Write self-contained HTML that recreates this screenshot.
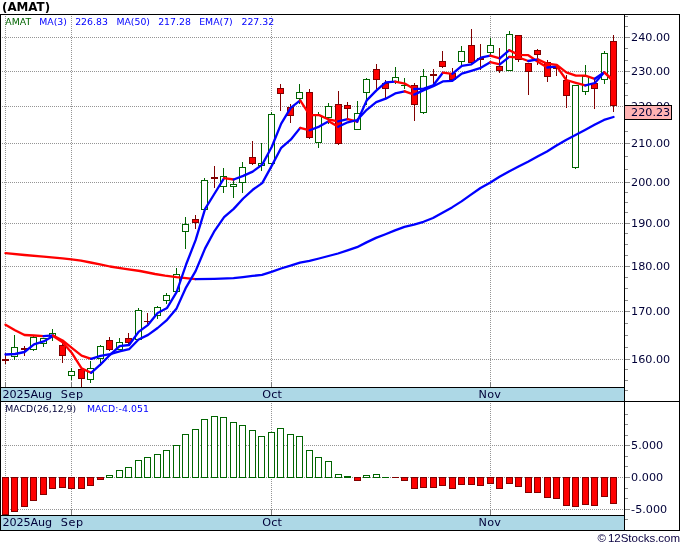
<!DOCTYPE html>
<html><head><meta charset="utf-8"><title>AMAT chart</title>
<style>html,body{margin:0;padding:0;background:#fff}svg{display:block}</style></head>
<body>
<svg width="680" height="546" viewBox="0 0 680 546">
<rect x="0" y="0" width="680" height="546" fill="#ffffff" />
<g shape-rendering="crispEdges">
<rect x="1" y="388" width="623" height="13" fill="#add8e6" />
<rect x="1" y="516" width="623" height="14" fill="#add8e6" />
<line x1="2" y1="37.5" x2="624" y2="37.5" stroke="#959595" stroke-width="1" stroke-dasharray="1,1"/>
<line x1="2" y1="71.5" x2="624" y2="71.5" stroke="#959595" stroke-width="1" stroke-dasharray="1,1"/>
<line x1="2" y1="106.5" x2="624" y2="106.5" stroke="#959595" stroke-width="1" stroke-dasharray="1,1"/>
<line x1="2" y1="143.5" x2="624" y2="143.5" stroke="#959595" stroke-width="1" stroke-dasharray="1,1"/>
<line x1="2" y1="182.5" x2="624" y2="182.5" stroke="#959595" stroke-width="1" stroke-dasharray="1,1"/>
<line x1="2" y1="223.5" x2="624" y2="223.5" stroke="#959595" stroke-width="1" stroke-dasharray="1,1"/>
<line x1="2" y1="266.5" x2="624" y2="266.5" stroke="#959595" stroke-width="1" stroke-dasharray="1,1"/>
<line x1="2" y1="311.5" x2="624" y2="311.5" stroke="#959595" stroke-width="1" stroke-dasharray="1,1"/>
<line x1="2" y1="359.5" x2="624" y2="359.5" stroke="#959595" stroke-width="1" stroke-dasharray="1,1"/>
<line x1="2" y1="445.5" x2="624" y2="445.5" stroke="#959595" stroke-width="1" stroke-dasharray="1,1"/>
<line x1="2" y1="477.5" x2="624" y2="477.5" stroke="#959595" stroke-width="1" stroke-dasharray="1,1"/>
<line x1="2" y1="509.5" x2="624" y2="509.5" stroke="#959595" stroke-width="1" stroke-dasharray="1,1"/>
<line x1="5.5" y1="16" x2="5.5" y2="387" stroke="#959595" stroke-width="1" stroke-dasharray="1,1"/>
<line x1="5.5" y1="403" x2="5.5" y2="515" stroke="#959595" stroke-width="1" stroke-dasharray="1,1"/>
<line x1="71.5" y1="16" x2="71.5" y2="387" stroke="#959595" stroke-width="1" stroke-dasharray="1,1"/>
<line x1="71.5" y1="403" x2="71.5" y2="515" stroke="#959595" stroke-width="1" stroke-dasharray="1,1"/>
<line x1="271.5" y1="16" x2="271.5" y2="387" stroke="#959595" stroke-width="1" stroke-dasharray="1,1"/>
<line x1="271.5" y1="403" x2="271.5" y2="515" stroke="#959595" stroke-width="1" stroke-dasharray="1,1"/>
<line x1="490.5" y1="16" x2="490.5" y2="387" stroke="#959595" stroke-width="1" stroke-dasharray="1,1"/>
<line x1="490.5" y1="403" x2="490.5" y2="515" stroke="#959595" stroke-width="1" stroke-dasharray="1,1"/>
<rect x="0" y="14" width="680" height="1" fill="#000000" />
<rect x="0" y="14" width="1" height="517" fill="#000000" />
<rect x="679" y="14" width="1" height="517" fill="#000000" />
<rect x="0" y="530" width="680" height="1" fill="#000000" />
<rect x="624" y="14" width="1" height="517" fill="#000000" />
<rect x="0" y="387" width="625" height="1" fill="#000000" />
<rect x="0" y="401" width="680" height="1" fill="#000000" />
<rect x="0" y="515" width="625" height="1" fill="#000000" />
<rect x="5" y="382" width="1" height="5" fill="#808080" />
<rect x="5" y="510" width="1" height="5" fill="#808080" />
<rect x="71" y="382" width="1" height="5" fill="#808080" />
<rect x="71" y="510" width="1" height="5" fill="#808080" />
<rect x="271" y="382" width="1" height="5" fill="#808080" />
<rect x="271" y="510" width="1" height="5" fill="#808080" />
<rect x="490" y="382" width="1" height="5" fill="#808080" />
<rect x="490" y="510" width="1" height="5" fill="#808080" />
<rect x="625" y="37" width="5" height="1" fill="#8c8c8c" />
<rect x="625" y="71" width="5" height="1" fill="#8c8c8c" />
<rect x="625" y="106" width="5" height="1" fill="#8c8c8c" />
<rect x="625" y="143" width="5" height="1" fill="#8c8c8c" />
<rect x="625" y="182" width="5" height="1" fill="#8c8c8c" />
<rect x="625" y="223" width="5" height="1" fill="#8c8c8c" />
<rect x="625" y="266" width="5" height="1" fill="#8c8c8c" />
<rect x="625" y="311" width="5" height="1" fill="#8c8c8c" />
<rect x="625" y="359" width="5" height="1" fill="#8c8c8c" />
<rect x="625" y="445" width="5" height="1" fill="#8c8c8c" />
<rect x="625" y="477" width="5" height="1" fill="#8c8c8c" />
<rect x="625" y="509" width="5" height="1" fill="#8c8c8c" />
<rect x="625" y="16" width="3" height="1" fill="#8c8c8c" />
<rect x="625" y="26" width="3" height="1" fill="#8c8c8c" />
<rect x="625" y="48" width="3" height="1" fill="#8c8c8c" />
<rect x="625" y="60" width="3" height="1" fill="#8c8c8c" />
<rect x="625" y="83" width="3" height="1" fill="#8c8c8c" />
<rect x="625" y="95" width="3" height="1" fill="#8c8c8c" />
<rect x="625" y="131" width="3" height="1" fill="#8c8c8c" />
<rect x="625" y="156" width="3" height="1" fill="#8c8c8c" />
<rect x="625" y="169" width="3" height="1" fill="#8c8c8c" />
<rect x="625" y="192" width="3" height="1" fill="#8c8c8c" />
<rect x="625" y="202" width="3" height="1" fill="#8c8c8c" />
<rect x="625" y="212" width="3" height="1" fill="#8c8c8c" />
<rect x="625" y="233" width="3" height="1" fill="#8c8c8c" />
<rect x="625" y="244" width="3" height="1" fill="#8c8c8c" />
<rect x="625" y="255" width="3" height="1" fill="#8c8c8c" />
<rect x="625" y="277" width="3" height="1" fill="#8c8c8c" />
<rect x="625" y="288" width="3" height="1" fill="#8c8c8c" />
<rect x="625" y="300" width="3" height="1" fill="#8c8c8c" />
<rect x="625" y="323" width="3" height="1" fill="#8c8c8c" />
<rect x="625" y="335" width="3" height="1" fill="#8c8c8c" />
<rect x="625" y="347" width="3" height="1" fill="#8c8c8c" />
<rect x="625" y="369" width="3" height="1" fill="#8c8c8c" />
<rect x="625" y="380" width="3" height="1" fill="#8c8c8c" />
<rect x="625" y="390" width="3" height="1" fill="#8c8c8c" />
<rect x="625" y="414" width="3" height="1" fill="#8c8c8c" />
<rect x="625" y="424" width="3" height="1" fill="#8c8c8c" />
<rect x="625" y="435" width="3" height="1" fill="#8c8c8c" />
<rect x="625" y="456" width="3" height="1" fill="#8c8c8c" />
<rect x="625" y="466" width="3" height="1" fill="#8c8c8c" />
<rect x="625" y="488" width="3" height="1" fill="#8c8c8c" />
<rect x="625" y="498" width="3" height="1" fill="#8c8c8c" />
<rect x="625" y="519" width="3" height="1" fill="#8c8c8c" />
</g>
<g shape-rendering="crispEdges">
<rect x="5" y="353" width="1" height="11" fill="#800000" />
<rect x="2" y="359" width="7" height="2" fill="#800000" />
<rect x="14" y="335" width="1" height="12" fill="#006400" />
<rect x="14" y="357" width="1" height="3" fill="#006400" />
<rect x="11.5" y="347.5" width="6" height="9" fill="#ffffff" stroke="#006400" stroke-width="1"/>
<rect x="24" y="346" width="1" height="10" fill="#800000" />
<rect x="21" y="348" width="7" height="2" fill="#800000" />
<rect x="33" y="336" width="1" height="1" fill="#006400" />
<rect x="33" y="350" width="1" height="1" fill="#006400" />
<rect x="30.5" y="337.5" width="6" height="12" fill="#ffffff" stroke="#006400" stroke-width="1"/>
<rect x="43" y="338" width="1" height="0" fill="#006400" />
<rect x="43" y="344" width="1" height="3" fill="#006400" />
<rect x="40.5" y="338.5" width="6" height="5" fill="#ffffff" stroke="#006400" stroke-width="1"/>
<rect x="52" y="329" width="1" height="4" fill="#006400" />
<rect x="52" y="337" width="1" height="4" fill="#006400" />
<rect x="49.5" y="333.5" width="6" height="3" fill="#ffffff" stroke="#006400" stroke-width="1"/>
<rect x="62" y="343" width="1" height="20" fill="#800000" />
<rect x="59.5" y="345.5" width="6" height="10" fill="#ff0000" stroke="#800000" stroke-width="1"/>
<rect x="71" y="368" width="1" height="3" fill="#006400" />
<rect x="71" y="376" width="1" height="4" fill="#006400" />
<rect x="68.5" y="371.5" width="6" height="4" fill="#ffffff" stroke="#006400" stroke-width="1"/>
<rect x="81" y="369" width="1" height="18" fill="#800000" />
<rect x="78.5" y="369.5" width="6" height="9" fill="#ff0000" stroke="#800000" stroke-width="1"/>
<rect x="90" y="361" width="1" height="7" fill="#006400" />
<rect x="90" y="380" width="1" height="3" fill="#006400" />
<rect x="87.5" y="368.5" width="6" height="11" fill="#ffffff" stroke="#006400" stroke-width="1"/>
<rect x="100" y="345" width="1" height="1" fill="#006400" />
<rect x="100" y="359" width="1" height="7" fill="#006400" />
<rect x="97.5" y="346.5" width="6" height="12" fill="#ffffff" stroke="#006400" stroke-width="1"/>
<rect x="109" y="337" width="1" height="14" fill="#800000" />
<rect x="106.5" y="340.5" width="6" height="9" fill="#ff0000" stroke="#800000" stroke-width="1"/>
<rect x="119" y="338" width="1" height="4" fill="#006400" />
<rect x="119" y="350" width="1" height="0" fill="#006400" />
<rect x="116.5" y="342.5" width="6" height="7" fill="#ffffff" stroke="#006400" stroke-width="1"/>
<rect x="128" y="333" width="1" height="13" fill="#800000" />
<rect x="125.5" y="338.5" width="6" height="4" fill="#ff0000" stroke="#800000" stroke-width="1"/>
<rect x="138" y="308" width="1" height="2" fill="#006400" />
<rect x="138" y="340" width="1" height="0" fill="#006400" />
<rect x="135.5" y="310.5" width="6" height="29" fill="#ffffff" stroke="#006400" stroke-width="1"/>
<rect x="147" y="313" width="1" height="11" fill="#800000" />
<rect x="144" y="321" width="7" height="1" fill="#800000" />
<rect x="157" y="306" width="1" height="1" fill="#006400" />
<rect x="157" y="316" width="1" height="3" fill="#006400" />
<rect x="154.5" y="307.5" width="6" height="8" fill="#ffffff" stroke="#006400" stroke-width="1"/>
<rect x="166" y="293" width="1" height="2" fill="#006400" />
<rect x="166" y="301" width="1" height="3" fill="#006400" />
<rect x="163.5" y="295.5" width="6" height="5" fill="#ffffff" stroke="#006400" stroke-width="1"/>
<rect x="176" y="268" width="1" height="6" fill="#006400" />
<rect x="176" y="292" width="1" height="0" fill="#006400" />
<rect x="173.5" y="274.5" width="6" height="17" fill="#ffffff" stroke="#006400" stroke-width="1"/>
<rect x="185" y="217" width="1" height="7" fill="#006400" />
<rect x="185" y="232" width="1" height="17" fill="#006400" />
<rect x="182.5" y="224.5" width="6" height="7" fill="#ffffff" stroke="#006400" stroke-width="1"/>
<rect x="195" y="215" width="1" height="14" fill="#800000" />
<rect x="192.5" y="219.5" width="6" height="3" fill="#ff0000" stroke="#800000" stroke-width="1"/>
<rect x="204" y="178" width="1" height="2" fill="#006400" />
<rect x="204" y="210" width="1" height="0" fill="#006400" />
<rect x="201.5" y="180.5" width="6" height="29" fill="#ffffff" stroke="#006400" stroke-width="1"/>
<rect x="214" y="166" width="1" height="22" fill="#800000" />
<rect x="211" y="177" width="7" height="2" fill="#800000" />
<rect x="223" y="168" width="1" height="8" fill="#006400" />
<rect x="223" y="187" width="1" height="6" fill="#006400" />
<rect x="220.5" y="176.5" width="6" height="10" fill="#ffffff" stroke="#006400" stroke-width="1"/>
<rect x="233" y="180" width="1" height="4" fill="#006400" />
<rect x="233" y="187" width="1" height="11" fill="#006400" />
<rect x="230.5" y="184.5" width="6" height="2" fill="#ffffff" stroke="#006400" stroke-width="1"/>
<rect x="242" y="162" width="1" height="5" fill="#006400" />
<rect x="242" y="183" width="1" height="10" fill="#006400" />
<rect x="239.5" y="167.5" width="6" height="15" fill="#ffffff" stroke="#006400" stroke-width="1"/>
<rect x="252" y="141" width="1" height="24" fill="#800000" />
<rect x="249.5" y="157.5" width="6" height="6" fill="#ff0000" stroke="#800000" stroke-width="1"/>
<rect x="261" y="143" width="1" height="20" fill="#006400" />
<rect x="261" y="166" width="1" height="5" fill="#006400" />
<rect x="258.5" y="163.5" width="6" height="2" fill="#ffffff" stroke="#006400" stroke-width="1"/>
<rect x="271" y="112" width="1" height="2" fill="#006400" />
<rect x="271" y="164" width="1" height="4" fill="#006400" />
<rect x="268.5" y="114.5" width="6" height="49" fill="#ffffff" stroke="#006400" stroke-width="1"/>
<rect x="280" y="84" width="1" height="27" fill="#800000" />
<rect x="277.5" y="88.5" width="6" height="5" fill="#ff0000" stroke="#800000" stroke-width="1"/>
<rect x="290" y="104" width="1" height="19" fill="#800000" />
<rect x="287.5" y="107.5" width="6" height="8" fill="#ff0000" stroke="#800000" stroke-width="1"/>
<rect x="299" y="84" width="1" height="8" fill="#006400" />
<rect x="299" y="99" width="1" height="5" fill="#006400" />
<rect x="296.5" y="92.5" width="6" height="6" fill="#ffffff" stroke="#006400" stroke-width="1"/>
<rect x="309" y="89" width="1" height="50" fill="#800000" />
<rect x="306.5" y="92.5" width="6" height="45" fill="#ff0000" stroke="#800000" stroke-width="1"/>
<rect x="318" y="112" width="1" height="3" fill="#006400" />
<rect x="318" y="143" width="1" height="5" fill="#006400" />
<rect x="315.5" y="115.5" width="6" height="27" fill="#ffffff" stroke="#006400" stroke-width="1"/>
<rect x="328" y="103" width="1" height="3" fill="#006400" />
<rect x="328" y="118" width="1" height="6" fill="#006400" />
<rect x="325.5" y="106.5" width="6" height="11" fill="#ffffff" stroke="#006400" stroke-width="1"/>
<rect x="338" y="91" width="1" height="54" fill="#800000" />
<rect x="335.5" y="104.5" width="6" height="39" fill="#ff0000" stroke="#800000" stroke-width="1"/>
<rect x="347" y="102" width="1" height="16" fill="#800000" />
<rect x="344.5" y="105.5" width="6" height="3" fill="#ff0000" stroke="#800000" stroke-width="1"/>
<rect x="357" y="101" width="1" height="12" fill="#006400" />
<rect x="357" y="130" width="1" height="0" fill="#006400" />
<rect x="354.5" y="113.5" width="6" height="16" fill="#ffffff" stroke="#006400" stroke-width="1"/>
<rect x="366" y="78" width="1" height="1" fill="#006400" />
<rect x="366" y="93" width="1" height="12" fill="#006400" />
<rect x="363.5" y="79.5" width="6" height="13" fill="#ffffff" stroke="#006400" stroke-width="1"/>
<rect x="376" y="64" width="1" height="25" fill="#800000" />
<rect x="373.5" y="69.5" width="6" height="10" fill="#ff0000" stroke="#800000" stroke-width="1"/>
<rect x="385" y="80" width="1" height="18" fill="#800000" />
<rect x="382.5" y="83.5" width="6" height="5" fill="#ff0000" stroke="#800000" stroke-width="1"/>
<rect x="395" y="67" width="1" height="10" fill="#006400" />
<rect x="395" y="82" width="1" height="2" fill="#006400" />
<rect x="392.5" y="77.5" width="6" height="4" fill="#ffffff" stroke="#006400" stroke-width="1"/>
<rect x="404" y="78" width="1" height="11" fill="#006400" />
<rect x="401" y="85" width="7" height="1" fill="#006400" />
<rect x="414" y="83" width="1" height="38" fill="#800000" />
<rect x="411.5" y="85.5" width="6" height="19" fill="#ff0000" stroke="#800000" stroke-width="1"/>
<rect x="423" y="69" width="1" height="7" fill="#006400" />
<rect x="423" y="113" width="1" height="1" fill="#006400" />
<rect x="420.5" y="76.5" width="6" height="36" fill="#ffffff" stroke="#006400" stroke-width="1"/>
<rect x="433" y="69" width="1" height="16" fill="#800000" />
<rect x="430" y="74" width="7" height="2" fill="#800000" />
<rect x="442" y="51" width="1" height="17" fill="#800000" />
<rect x="439.5" y="61.5" width="6" height="5" fill="#ff0000" stroke="#800000" stroke-width="1"/>
<rect x="452" y="68" width="1" height="12" fill="#800000" />
<rect x="449.5" y="73.5" width="6" height="6" fill="#ff0000" stroke="#800000" stroke-width="1"/>
<rect x="461" y="46" width="1" height="5" fill="#006400" />
<rect x="461" y="62" width="1" height="4" fill="#006400" />
<rect x="458.5" y="51.5" width="6" height="10" fill="#ffffff" stroke="#006400" stroke-width="1"/>
<rect x="471" y="29" width="1" height="35" fill="#800000" />
<rect x="468.5" y="45.5" width="6" height="17" fill="#ff0000" stroke="#800000" stroke-width="1"/>
<rect x="480" y="44" width="1" height="26" fill="#800000" />
<rect x="477" y="58" width="7" height="2" fill="#800000" />
<rect x="490" y="38" width="1" height="7" fill="#006400" />
<rect x="490" y="53" width="1" height="4" fill="#006400" />
<rect x="487.5" y="45.5" width="6" height="7" fill="#ffffff" stroke="#006400" stroke-width="1"/>
<rect x="499" y="48" width="1" height="25" fill="#800000" />
<rect x="496.5" y="66.5" width="6" height="4" fill="#ff0000" stroke="#800000" stroke-width="1"/>
<rect x="509" y="31" width="1" height="3" fill="#006400" />
<rect x="509" y="71" width="1" height="0" fill="#006400" />
<rect x="506.5" y="34.5" width="6" height="36" fill="#ffffff" stroke="#006400" stroke-width="1"/>
<rect x="518" y="35" width="1" height="27" fill="#800000" />
<rect x="515.5" y="35.5" width="6" height="24" fill="#ff0000" stroke="#800000" stroke-width="1"/>
<rect x="528" y="63" width="1" height="32" fill="#800000" />
<rect x="525.5" y="63.5" width="6" height="8" fill="#ff0000" stroke="#800000" stroke-width="1"/>
<rect x="537" y="49" width="1" height="16" fill="#800000" />
<rect x="534.5" y="50.5" width="6" height="4" fill="#ff0000" stroke="#800000" stroke-width="1"/>
<rect x="547" y="60" width="1" height="22" fill="#800000" />
<rect x="544.5" y="62.5" width="6" height="14" fill="#ff0000" stroke="#800000" stroke-width="1"/>
<rect x="556" y="65" width="1" height="11" fill="#800000" />
<rect x="553" y="67" width="7" height="2" fill="#800000" />
<rect x="566" y="75" width="1" height="33" fill="#800000" />
<rect x="563.5" y="80.5" width="6" height="15" fill="#ff0000" stroke="#800000" stroke-width="1"/>
<rect x="575" y="85" width="1" height="0" fill="#006400" />
<rect x="575" y="168" width="1" height="1" fill="#006400" />
<rect x="572.5" y="85.5" width="6" height="82" fill="#ffffff" stroke="#006400" stroke-width="1"/>
<rect x="585" y="65" width="1" height="11" fill="#006400" />
<rect x="585" y="92" width="1" height="3" fill="#006400" />
<rect x="582.5" y="76.5" width="6" height="15" fill="#ffffff" stroke="#006400" stroke-width="1"/>
<rect x="594" y="78" width="1" height="31" fill="#800000" />
<rect x="591.5" y="83.5" width="6" height="5" fill="#ff0000" stroke="#800000" stroke-width="1"/>
<rect x="604" y="51" width="1" height="2" fill="#006400" />
<rect x="604" y="80" width="1" height="4" fill="#006400" />
<rect x="601.5" y="53.5" width="6" height="26" fill="#ffffff" stroke="#006400" stroke-width="1"/>
<rect x="613" y="35" width="1" height="77" fill="#800000" />
<rect x="610.5" y="41.5" width="6" height="64" fill="#ff0000" stroke="#800000" stroke-width="1"/>
<rect x="2.5" y="477.5" width="6" height="37" fill="#ff0000" stroke="#800000" stroke-width="1"/>
<rect x="11.5" y="477.5" width="6" height="34" fill="#ff0000" stroke="#800000" stroke-width="1"/>
<rect x="21.5" y="477.5" width="6" height="29" fill="#ff0000" stroke="#800000" stroke-width="1"/>
<rect x="30.5" y="477.5" width="6" height="23" fill="#ff0000" stroke="#800000" stroke-width="1"/>
<rect x="40.5" y="477.5" width="6" height="17" fill="#ff0000" stroke="#800000" stroke-width="1"/>
<rect x="49.5" y="477.5" width="6" height="11" fill="#ff0000" stroke="#800000" stroke-width="1"/>
<rect x="59.5" y="477.5" width="6" height="10" fill="#ff0000" stroke="#800000" stroke-width="1"/>
<rect x="68.5" y="477.5" width="6" height="11" fill="#ff0000" stroke="#800000" stroke-width="1"/>
<rect x="78.5" y="477.5" width="6" height="11" fill="#ff0000" stroke="#800000" stroke-width="1"/>
<rect x="87.5" y="477.5" width="6" height="8" fill="#ff0000" stroke="#800000" stroke-width="1"/>
<rect x="97.5" y="477.5" width="6" height="2" fill="#ff0000" stroke="#800000" stroke-width="1"/>
<rect x="106.5" y="475.5" width="6" height="2" fill="#ffffff" stroke="#006400" stroke-width="1"/>
<rect x="116.5" y="470.5" width="6" height="7" fill="#ffffff" stroke="#006400" stroke-width="1"/>
<rect x="125.5" y="467.5" width="6" height="10" fill="#ffffff" stroke="#006400" stroke-width="1"/>
<rect x="135.5" y="460.5" width="6" height="17" fill="#ffffff" stroke="#006400" stroke-width="1"/>
<rect x="144.5" y="457.5" width="6" height="20" fill="#ffffff" stroke="#006400" stroke-width="1"/>
<rect x="154.5" y="454.5" width="6" height="23" fill="#ffffff" stroke="#006400" stroke-width="1"/>
<rect x="163.5" y="450.5" width="6" height="27" fill="#ffffff" stroke="#006400" stroke-width="1"/>
<rect x="173.5" y="445.5" width="6" height="32" fill="#ffffff" stroke="#006400" stroke-width="1"/>
<rect x="182.5" y="434.5" width="6" height="43" fill="#ffffff" stroke="#006400" stroke-width="1"/>
<rect x="192.5" y="429.5" width="6" height="48" fill="#ffffff" stroke="#006400" stroke-width="1"/>
<rect x="201.5" y="419.5" width="6" height="58" fill="#ffffff" stroke="#006400" stroke-width="1"/>
<rect x="211.5" y="416.5" width="6" height="61" fill="#ffffff" stroke="#006400" stroke-width="1"/>
<rect x="220.5" y="417.5" width="6" height="60" fill="#ffffff" stroke="#006400" stroke-width="1"/>
<rect x="230.5" y="422.5" width="6" height="55" fill="#ffffff" stroke="#006400" stroke-width="1"/>
<rect x="239.5" y="425.5" width="6" height="52" fill="#ffffff" stroke="#006400" stroke-width="1"/>
<rect x="249.5" y="430.5" width="6" height="47" fill="#ffffff" stroke="#006400" stroke-width="1"/>
<rect x="258.5" y="436.5" width="6" height="41" fill="#ffffff" stroke="#006400" stroke-width="1"/>
<rect x="268.5" y="432.5" width="6" height="45" fill="#ffffff" stroke="#006400" stroke-width="1"/>
<rect x="277.5" y="428.5" width="6" height="49" fill="#ffffff" stroke="#006400" stroke-width="1"/>
<rect x="287.5" y="434.5" width="6" height="43" fill="#ffffff" stroke="#006400" stroke-width="1"/>
<rect x="296.5" y="436.5" width="6" height="41" fill="#ffffff" stroke="#006400" stroke-width="1"/>
<rect x="306.5" y="450.5" width="6" height="27" fill="#ffffff" stroke="#006400" stroke-width="1"/>
<rect x="315.5" y="457.5" width="6" height="20" fill="#ffffff" stroke="#006400" stroke-width="1"/>
<rect x="325.5" y="461.5" width="6" height="16" fill="#ffffff" stroke="#006400" stroke-width="1"/>
<rect x="335.5" y="474.5" width="6" height="3" fill="#ffffff" stroke="#006400" stroke-width="1"/>
<rect x="344" y="476" width="7" height="2" fill="#006400" />
<rect x="354.5" y="477.5" width="6" height="3" fill="#ff0000" stroke="#800000" stroke-width="1"/>
<rect x="363.5" y="475.5" width="6" height="2" fill="#ffffff" stroke="#006400" stroke-width="1"/>
<rect x="373.5" y="474.5" width="6" height="3" fill="#ffffff" stroke="#006400" stroke-width="1"/>
<rect x="382" y="477" width="7" height="1" fill="#006400" />
<rect x="392" y="477" width="7" height="1" fill="#800000" />
<rect x="401.5" y="477.5" width="6" height="3" fill="#ff0000" stroke="#800000" stroke-width="1"/>
<rect x="411.5" y="477.5" width="6" height="11" fill="#ff0000" stroke="#800000" stroke-width="1"/>
<rect x="420.5" y="477.5" width="6" height="10" fill="#ff0000" stroke="#800000" stroke-width="1"/>
<rect x="430.5" y="477.5" width="6" height="10" fill="#ff0000" stroke="#800000" stroke-width="1"/>
<rect x="439.5" y="477.5" width="6" height="8" fill="#ff0000" stroke="#800000" stroke-width="1"/>
<rect x="449.5" y="477.5" width="6" height="11" fill="#ff0000" stroke="#800000" stroke-width="1"/>
<rect x="458.5" y="477.5" width="6" height="7" fill="#ff0000" stroke="#800000" stroke-width="1"/>
<rect x="468.5" y="477.5" width="6" height="7" fill="#ff0000" stroke="#800000" stroke-width="1"/>
<rect x="477.5" y="477.5" width="6" height="8" fill="#ff0000" stroke="#800000" stroke-width="1"/>
<rect x="487.5" y="477.5" width="6" height="6" fill="#ff0000" stroke="#800000" stroke-width="1"/>
<rect x="496.5" y="477.5" width="6" height="11" fill="#ff0000" stroke="#800000" stroke-width="1"/>
<rect x="506.5" y="477.5" width="6" height="6" fill="#ff0000" stroke="#800000" stroke-width="1"/>
<rect x="515.5" y="477.5" width="6" height="9" fill="#ff0000" stroke="#800000" stroke-width="1"/>
<rect x="525.5" y="477.5" width="6" height="15" fill="#ff0000" stroke="#800000" stroke-width="1"/>
<rect x="534.5" y="477.5" width="6" height="15" fill="#ff0000" stroke="#800000" stroke-width="1"/>
<rect x="544.5" y="477.5" width="6" height="20" fill="#ff0000" stroke="#800000" stroke-width="1"/>
<rect x="553.5" y="477.5" width="6" height="21" fill="#ff0000" stroke="#800000" stroke-width="1"/>
<rect x="563.5" y="477.5" width="6" height="28" fill="#ff0000" stroke="#800000" stroke-width="1"/>
<rect x="572.5" y="477.5" width="6" height="29" fill="#ff0000" stroke="#800000" stroke-width="1"/>
<rect x="582.5" y="477.5" width="6" height="27" fill="#ff0000" stroke="#800000" stroke-width="1"/>
<rect x="591.5" y="477.5" width="6" height="28" fill="#ff0000" stroke="#800000" stroke-width="1"/>
<rect x="601.5" y="477.5" width="6" height="19" fill="#ff0000" stroke="#800000" stroke-width="1"/>
<rect x="610.5" y="477.5" width="6" height="26" fill="#ff0000" stroke="#800000" stroke-width="1"/>
</g>
<polyline fill="none" stroke="#ff0000" stroke-width="2.3" stroke-linejoin="round" stroke-linecap="round" points="5.5,253.2 24.5,255.0 43.5,256.6 62.5,258.4 71.5,259.3 81.0,260.6 90.5,262.5 100.0,264.3 110.0,266.5 125.0,268.8 140.0,271.0 155.0,274.0 165.0,275.7 176.5,277.2 186.0,278.2 195.5,279.1"/>
<polyline fill="none" stroke="#0000ff" stroke-width="2.3" stroke-linejoin="round" stroke-linecap="round" points="195.5,279.1 214.5,278.8 233.5,278.1 243.0,277.1 252.5,275.9 262.0,274.9 271.5,271.9 281.0,268.5 290.5,265.7 300.0,262.6 309.5,260.9 319.0,258.5 328.5,256.0 338.0,253.5 347.5,250.4 357.0,247.2 366.5,242.4 376.0,237.9 385.5,234.2 395.0,230.4 404.5,226.9 414.0,224.6 423.5,221.8 433.0,218.0 442.5,212.7 452.0,207.4 461.5,201.4 471.0,194.6 480.5,188.0 490.0,182.7 499.5,176.8 509.0,171.4 518.5,166.5 528.0,161.8 537.5,156.6 547.0,151.5 556.5,145.6 566.0,140.0 575.5,135.1 585.0,130.0 594.5,124.8 604.0,119.9 613.5,117.0"/>
<polyline fill="none" stroke="#0000ff" stroke-width="2.3" stroke-linejoin="round" stroke-linecap="round" points="5.5,354.5 15.0,354.0 24.5,352.0 34.0,344.3 43.6,341.4 53.1,336.1"/>
<polyline fill="none" stroke="#ff0000" stroke-width="2.3" stroke-linejoin="round" stroke-linecap="round" points="53.1,336.1 62.6,342.2 72.1,353.3 81.6,368.4 91.1,372.8"/>
<polyline fill="none" stroke="#0000ff" stroke-width="2.3" stroke-linejoin="round" stroke-linecap="round" points="91.1,372.8 100.6,364.4 110.1,354.8 119.6,346.2 129.1,345.0 138.6,331.9 148.1,324.8 157.6,313.0 167.1,307.9 176.6,292.2 186.1,264.5 195.6,240.2 205.1,208.9 214.6,193.5 224.1,178.2"/>
<polyline fill="none" stroke="#ff0000" stroke-width="2.3" stroke-linejoin="round" stroke-linecap="round" points="224.1,178.2 233.7,179.5"/>
<polyline fill="none" stroke="#0000ff" stroke-width="2.3" stroke-linejoin="round" stroke-linecap="round" points="233.7,179.5 243.2,175.9 252.7,171.6 262.2,164.6 271.7,147.0 281.2,123.6 290.7,107.8 300.2,100.4"/>
<polyline fill="none" stroke="#ff0000" stroke-width="2.3" stroke-linejoin="round" stroke-linecap="round" points="300.2,100.4 309.7,115.1 319.2,115.1 328.7,119.5 338.2,121.4"/>
<polyline fill="none" stroke="#0000ff" stroke-width="2.3" stroke-linejoin="round" stroke-linecap="round" points="338.2,121.4 347.7,119.2"/>
<polyline fill="none" stroke="#ff0000" stroke-width="2.3" stroke-linejoin="round" stroke-linecap="round" points="347.7,119.2 357.2,121.7"/>
<polyline fill="none" stroke="#0000ff" stroke-width="2.3" stroke-linejoin="round" stroke-linecap="round" points="357.2,121.7 366.7,100.4 376.2,90.6 385.7,82.3 395.2,81.6"/>
<polyline fill="none" stroke="#ff0000" stroke-width="2.3" stroke-linejoin="round" stroke-linecap="round" points="395.2,81.6 404.7,83.6 414.2,89.0"/>
<polyline fill="none" stroke="#0000ff" stroke-width="2.3" stroke-linejoin="round" stroke-linecap="round" points="414.2,89.0 423.8,88.7 433.3,85.3 442.8,72.7"/>
<polyline fill="none" stroke="#ff0000" stroke-width="2.3" stroke-linejoin="round" stroke-linecap="round" points="442.8,72.7 452.3,73.8"/>
<polyline fill="none" stroke="#0000ff" stroke-width="2.3" stroke-linejoin="round" stroke-linecap="round" points="452.3,73.8 461.8,65.9 471.3,64.4 480.8,57.6 490.3,55.6"/>
<polyline fill="none" stroke="#ff0000" stroke-width="2.3" stroke-linejoin="round" stroke-linecap="round" points="490.3,55.6 499.8,58.4"/>
<polyline fill="none" stroke="#0000ff" stroke-width="2.3" stroke-linejoin="round" stroke-linecap="round" points="499.8,58.4 509.3,50.2"/>
<polyline fill="none" stroke="#ff0000" stroke-width="2.3" stroke-linejoin="round" stroke-linecap="round" points="509.3,50.2 518.8,54.9 528.3,55.2 537.8,61.8 547.3,67.5"/>
<polyline fill="none" stroke="#0000ff" stroke-width="2.3" stroke-linejoin="round" stroke-linecap="round" points="547.3,67.5 556.8,66.3"/>
<polyline fill="none" stroke="#ff0000" stroke-width="2.3" stroke-linejoin="round" stroke-linecap="round" points="556.8,66.3 566.3,80.0 575.8,82.8 585.3,85.4"/>
<polyline fill="none" stroke="#0000ff" stroke-width="2.3" stroke-linejoin="round" stroke-linecap="round" points="585.3,85.4 594.8,83.0 604.3,72.3"/>
<polyline fill="none" stroke="#ff0000" stroke-width="2.3" stroke-linejoin="round" stroke-linecap="round" points="604.3,72.3 613.9,82.2"/>
<polyline fill="none" stroke="#ff0000" stroke-width="2.3" stroke-linejoin="round" stroke-linecap="round" points="5.5,324.7 15.0,330.3 24.5,335.0 34.0,335.5 43.6,336.1"/>
<polyline fill="none" stroke="#0000ff" stroke-width="2.3" stroke-linejoin="round" stroke-linecap="round" points="43.6,336.1 53.1,335.4"/>
<polyline fill="none" stroke="#ff0000" stroke-width="2.3" stroke-linejoin="round" stroke-linecap="round" points="53.1,335.4 62.6,340.4 72.1,348.1 81.6,355.7 91.1,358.9"/>
<polyline fill="none" stroke="#0000ff" stroke-width="2.3" stroke-linejoin="round" stroke-linecap="round" points="91.1,358.9 100.6,355.8 110.1,354.2 119.6,351.3 129.1,349.2 138.6,339.5 148.1,334.9 157.6,328.0 167.1,319.8 176.6,308.4 186.1,287.3 195.6,271.1 205.1,248.4 214.6,230.8 224.1,217.2 233.7,208.9 243.2,198.5 252.7,189.8 262.2,183.1 271.7,165.9 281.2,147.8 290.7,139.7 300.2,127.9"/>
<polyline fill="none" stroke="#ff0000" stroke-width="2.3" stroke-linejoin="round" stroke-linecap="round" points="300.2,127.9 309.7,130.3"/>
<polyline fill="none" stroke="#0000ff" stroke-width="2.3" stroke-linejoin="round" stroke-linecap="round" points="309.7,130.3 319.2,126.6 328.7,121.3"/>
<polyline fill="none" stroke="#ff0000" stroke-width="2.3" stroke-linejoin="round" stroke-linecap="round" points="328.7,121.3 338.2,126.8"/>
<polyline fill="none" stroke="#0000ff" stroke-width="2.3" stroke-linejoin="round" stroke-linecap="round" points="338.2,126.8 347.7,122.3 357.2,120.0 366.7,109.8 376.2,102.2 385.7,98.7 395.2,93.4 404.7,91.3"/>
<polyline fill="none" stroke="#ff0000" stroke-width="2.3" stroke-linejoin="round" stroke-linecap="round" points="404.7,91.3 414.2,94.6"/>
<polyline fill="none" stroke="#0000ff" stroke-width="2.3" stroke-linejoin="round" stroke-linecap="round" points="414.2,94.6 423.8,90.1 433.3,86.3 442.8,81.4 452.3,80.9 461.8,73.6 471.3,70.8 480.8,67.8 490.3,62.2"/>
<polyline fill="none" stroke="#ff0000" stroke-width="2.3" stroke-linejoin="round" stroke-linecap="round" points="490.3,62.2 499.8,64.3"/>
<polyline fill="none" stroke="#0000ff" stroke-width="2.3" stroke-linejoin="round" stroke-linecap="round" points="499.8,64.3 509.3,56.9"/>
<polyline fill="none" stroke="#ff0000" stroke-width="2.3" stroke-linejoin="round" stroke-linecap="round" points="509.3,56.9 518.8,57.5 528.3,61.0"/>
<polyline fill="none" stroke="#0000ff" stroke-width="2.3" stroke-linejoin="round" stroke-linecap="round" points="528.3,61.0 537.8,59.4"/>
<polyline fill="none" stroke="#ff0000" stroke-width="2.3" stroke-linejoin="round" stroke-linecap="round" points="537.8,59.4 547.3,63.7 556.8,64.8 566.3,72.4 575.8,75.6 585.3,75.6 594.8,78.8"/>
<polyline fill="none" stroke="#0000ff" stroke-width="2.3" stroke-linejoin="round" stroke-linecap="round" points="594.8,78.8 604.3,72.3"/>
<polyline fill="none" stroke="#ff0000" stroke-width="2.3" stroke-linejoin="round" stroke-linecap="round" points="604.3,72.3 613.9,80.6"/>
<text x="2" y="10.8" font-size="11.85" fill="#000000" font-family="DejaVu Sans, Verdana, Liberation Sans, sans-serif" font-weight="bold">(AMAT)</text>
<text x="5.3" y="24.7" font-size="9.33" fill="#006400" font-family="DejaVu Sans, Verdana, Liberation Sans, sans-serif" >AMAT</text>
<text x="39.3" y="24.7" font-size="9.33" fill="#0000ff" font-family="DejaVu Sans, Verdana, Liberation Sans, sans-serif" >MA(3)</text>
<text x="75.2" y="24.7" font-size="9.33" fill="#0000ff" font-family="DejaVu Sans, Verdana, Liberation Sans, sans-serif" >226.83</text>
<text x="116.4" y="24.7" font-size="9.33" fill="#0000ff" font-family="DejaVu Sans, Verdana, Liberation Sans, sans-serif" >MA(50)</text>
<text x="158.2" y="24.7" font-size="9.33" fill="#0000ff" font-family="DejaVu Sans, Verdana, Liberation Sans, sans-serif" >217.28</text>
<text x="199.2" y="24.7" font-size="9.33" fill="#0000ff" font-family="DejaVu Sans, Verdana, Liberation Sans, sans-serif" >EMA(7)</text>
<text x="241.5" y="24.7" font-size="9.33" fill="#0000ff" font-family="DejaVu Sans, Verdana, Liberation Sans, sans-serif" >227.32</text>
<text x="631.1" y="40.6" font-size="11.2" fill="#000038" font-family="DejaVu Sans, Verdana, Liberation Sans, sans-serif" >240.00</text>
<text x="631.1" y="74.6" font-size="11.2" fill="#000038" font-family="DejaVu Sans, Verdana, Liberation Sans, sans-serif" >230.00</text>
<text x="631.1" y="109.6" font-size="11.2" fill="#000038" font-family="DejaVu Sans, Verdana, Liberation Sans, sans-serif" >220.00</text>
<text x="631.1" y="146.6" font-size="11.2" fill="#000038" font-family="DejaVu Sans, Verdana, Liberation Sans, sans-serif" >210.00</text>
<text x="631.1" y="185.6" font-size="11.2" fill="#000038" font-family="DejaVu Sans, Verdana, Liberation Sans, sans-serif" >200.00</text>
<text x="631.1" y="226.6" font-size="11.2" fill="#000038" font-family="DejaVu Sans, Verdana, Liberation Sans, sans-serif" >190.00</text>
<text x="631.1" y="269.6" font-size="11.2" fill="#000038" font-family="DejaVu Sans, Verdana, Liberation Sans, sans-serif" >180.00</text>
<text x="631.1" y="314.6" font-size="11.2" fill="#000038" font-family="DejaVu Sans, Verdana, Liberation Sans, sans-serif" >170.00</text>
<text x="631.1" y="362.6" font-size="11.2" fill="#000038" font-family="DejaVu Sans, Verdana, Liberation Sans, sans-serif" >160.00</text>
<g shape-rendering="crispEdges"><rect x="624.5" y="105.5" width="47" height="14" fill="#ffb3b3" stroke="#000" stroke-width="1"/>
</g>
<text x="631.1" y="116" font-size="11.2" fill="#000038" font-family="DejaVu Sans, Verdana, Liberation Sans, sans-serif" >220.23</text>
<text x="631.1" y="448.6" font-size="11.2" fill="#000038" font-family="DejaVu Sans, Verdana, Liberation Sans, sans-serif" >5.000</text>
<text x="631.1" y="480.6" font-size="11.2" fill="#000038" font-family="DejaVu Sans, Verdana, Liberation Sans, sans-serif" >0.000</text>
<text x="631.1" y="512.6" font-size="11.2" fill="#000038" font-family="DejaVu Sans, Verdana, Liberation Sans, sans-serif" >-5.000</text>
<text x="2.5" y="397.7" font-size="11.2" fill="#000038" font-family="DejaVu Sans, Verdana, Liberation Sans, sans-serif" textLength="49.6" lengthAdjust="spacing">2025Aug</text>
<text x="60.8" y="397.7" font-size="11.2" fill="#000038" font-family="DejaVu Sans, Verdana, Liberation Sans, sans-serif" textLength="22.2" lengthAdjust="spacing">Sep</text>
<text x="262.2" y="397.7" font-size="11.2" fill="#000038" font-family="DejaVu Sans, Verdana, Liberation Sans, sans-serif" textLength="19.6" lengthAdjust="spacing">Oct</text>
<text x="478.6" y="397.7" font-size="11.2" fill="#000038" font-family="DejaVu Sans, Verdana, Liberation Sans, sans-serif" textLength="22.3" lengthAdjust="spacing">Nov</text>
<text x="2.5" y="525.7" font-size="11.2" fill="#000038" font-family="DejaVu Sans, Verdana, Liberation Sans, sans-serif" textLength="49.6" lengthAdjust="spacing">2025Aug</text>
<text x="60.8" y="525.7" font-size="11.2" fill="#000038" font-family="DejaVu Sans, Verdana, Liberation Sans, sans-serif" textLength="22.2" lengthAdjust="spacing">Sep</text>
<text x="262.2" y="525.7" font-size="11.2" fill="#000038" font-family="DejaVu Sans, Verdana, Liberation Sans, sans-serif" textLength="19.6" lengthAdjust="spacing">Oct</text>
<text x="478.6" y="525.7" font-size="11.2" fill="#000038" font-family="DejaVu Sans, Verdana, Liberation Sans, sans-serif" textLength="22.3" lengthAdjust="spacing">Nov</text>
<text x="5.3" y="412" font-size="9.33" fill="#000038" font-family="DejaVu Sans, Verdana, Liberation Sans, sans-serif" >MACD(26,12,9)</text>
<text x="86.9" y="412" font-size="9.33" fill="#0000ff" font-family="DejaVu Sans, Verdana, Liberation Sans, sans-serif" textLength="62" lengthAdjust="spacing">MACD:-4.051</text>
<text x="597.6" y="541.8" font-size="11.5" fill="#0a0040" font-family="Liberation Sans, Arial, sans-serif">©<tspan dx="1.8">12Stocks.com</tspan></text>
</svg>
</body></html>
